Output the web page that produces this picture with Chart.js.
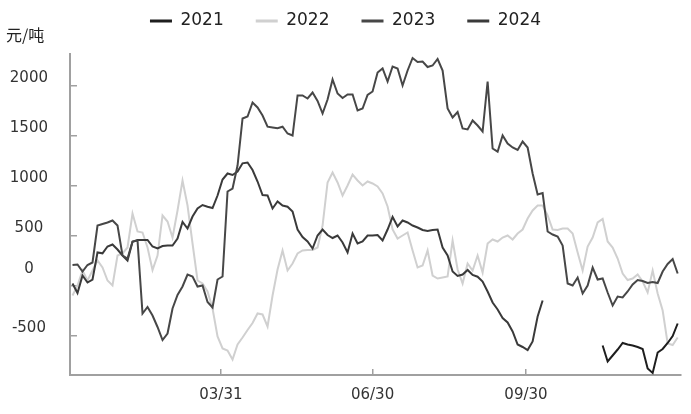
<!DOCTYPE html>
<html><head><meta charset="utf-8">
<script src="https://cdn.jsdelivr.net/npm/chart.js@4"></script>
<style>html,body{margin:0;padding:0;background:#fff}</style>
</head><body>
<canvas id="c" width="691" height="414"></canvas>
<script>
// ---- data ----
const seriesNames = ['2021', '2022', '2023', '2024'];
const tickDays = [89, 180, 272];              // day-of-year positions (0 = 01/01)
const tickLabels = ['03/31', '06/30', '09/30'];
const yTicks = [-500, 0, 500, 1000, 1500, 2000];
const unitLabel = '元/吨';
const STEP = 3;                                // days between samples
const start2021 = 106;                         // first sample index of 2021
const values2021 = [-600, -760, -700, -640, -575, -590, -600, -615, -635, -830, -875, -670, -635, -575, -505, -380];
const values2022 = [
  -100, 0, 150, 50, 150, 250, 180, 50, 0, 300,
  320, 380, 720, 540, 530, 380, 155, 300, 700, 640,
  480, 750, 1050, 800, 420, 50, 20, -60, -230, -510,
  -630, -650, -740, -590, -520, -445, -375, -280, -290, -410,
  -100, 160, 350, 150, 220, 320, 350, 355, 355, 380,
  600, 1030, 1130, 1030, 900, 1000, 1110, 1050, 1000, 1040,
  1020, 990, 920, 790, 560, 470, 500, 530, 350, 180,
  200, 350, 100, 70, 80, 90, 450, 160, 20, 220,
  150, 300, 130, 420, 460, 440, 480, 500, 460, 520,
  560, 670, 750, 800, 800, 700, 560, 555, 570, 570,
  520, 330, 150, 390, 480, 630, 665, 440, 380, 270,
  120, 55, 70, 110, 40, -70, 150, -80, -250, -580,
  -595, -520];
const values2023 = [
  205, 210, 140, 205, 230, 600, 615, 630, 650, 600,
  300, 270, 440, 450, -280, -215, -300, -415, -545, -480,
  -230, -95, -10, 110, 90, -10, 0, -165, -220, 60,
  90, 940, 970, 1200, 1670, 1690, 1830, 1780, 1700, 1588,
  1580, 1572, 1588, 1520, 1500, 1900, 1900, 1870, 1930, 1845,
  1720, 1860, 2060, 1920, 1875, 1910, 1910, 1750, 1770, 1905,
  1940, 2130, 2170, 2040, 2190, 2170, 2000, 2150, 2275, 2235,
  2240, 2185, 2200, 2265, 2150, 1770, 1680, 1735, 1570, 1560,
  1650, 1600, 1540, 2040, 1370, 1338, 1500, 1420, 1380, 1355,
  1440, 1380, 1120, 910, 925, 540, 510, 490, 400, 20,
  0, 80, -80, 0, 180, 60, 70, -70, -200, -110,
  -120, -60, 10, 55, 45, 25, 35, 25, 140, 215,
  265, 120];
const values2024 = [
  20, -75, 100, 30, 60, 330, 322, 390, 410, 360,
  300, 250, 438, 455, 455, 455, 390, 370, 395, 400,
  400, 470, 635, 570, 690, 770, 805, 788, 775, 900,
  1060, 1120, 1105, 1140, 1222, 1230, 1155, 1040, 905, 900,
  770, 840, 800, 788, 740, 560, 485, 440, 370, 500,
  560, 505, 475, 500, 430, 330, 520, 420, 440, 500,
  500, 505, 450, 560, 685, 590, 650, 630, 600, 580,
  555, 545, 555, 560, 380, 300, 140, 95, 110, 155,
  105, 88, 40, -60, -170, -240, -325, -370, -460, -590,
  -615, -645, -560, -310, -150];

function toPoints(start, vals) {
  return vals.map((v, i) => ({ x: (start + i) * STEP, y: v }));
}

const FONT = 'DejaVu Sans';
const axisColor = '#a0a0a0';

const shiftLegend = {
  id: 'shiftLegend',
  afterLayout(chart) {
    if (chart.legend) { chart.legend.top -= 19.5; chart.legend.bottom -= 19.5; }
  }
};
const unitPlugin = {
  id: 'unitPlugin',
  afterDraw(chart) {
    const ctx = chart.ctx;
    ctx.save();
    ctx.font = '16px "Noto Sans CJK SC"';
    ctx.fillStyle = '#222';
    ctx.textAlign = 'left';
    ctx.textBaseline = 'middle';
    ctx.fillText(unitLabel, 6, chart.chartArea.top - 19);
    ctx.restore();
  }
};

new Chart(document.getElementById('c'), {
  type: 'line',
  data: {
    datasets: [
      { label: seriesNames[0], data: toPoints(start2021, values2021), borderColor: '#1e1e1e', backgroundColor: '#1e1e1e', order: 0 },
      { label: seriesNames[1], data: toPoints(0, values2022), borderColor: '#d0d0d0', backgroundColor: '#d0d0d0', order: 5 },
      { label: seriesNames[2], data: toPoints(0, values2023), borderColor: '#474747', backgroundColor: '#474747', order: 1 },
      { label: seriesNames[3], data: toPoints(0, values2024), borderColor: '#3a3a3a', backgroundColor: '#3a3a3a', order: 2 }
    ]
  },
  options: {
    responsive: false,
    animation: false,
    layout: { padding: { left: 10, right: 10, top: 0, bottom: 10 } },
    elements: { point: { radius: 0 }, line: { borderWidth: 2, tension: 0 } },
    plugins: {
      tooltip: { enabled: false },
      legend: {
        position: 'top',
        maxHeight: 54,
        labels: {
          font: { family: FONT, size: 17 },
          color: '#222',
          boxWidth: 22,
          boxHeight: 3,
          padding: 32,
          sort: (a, b) => a.datasetIndex - b.datasetIndex,
          generateLabels: (chart) => Chart.defaults.plugins.legend.labels.generateLabels(chart)
            .map(l => Object.assign(l, { fillStyle: l.strokeStyle, lineWidth: 0 }))
        }
      }
    },
    scales: {
      x: {
        type: 'linear',
        min: -1.5,
        max: 365,
        afterBuildTicks: (s) => { s.ticks = tickDays.map(v => ({ value: v })); },
        afterFit: (s) => { s.height = 29; },
        ticks: {
          callback: (v) => tickLabels[tickDays.indexOf(v)],
          font: { family: FONT, size: 15 },
          color: '#333',
          padding: 17,
          maxRotation: 0,
          autoSkip: false
        },
        grid: { drawOnChartArea: false, tickLength: -6, color: axisColor, lineWidth: 1.5 },
        border: { color: axisColor, width: 2 }
      },
      y: {
        min: -895,
        max: 2315,
        afterBuildTicks: (s) => { s.ticks = yTicks.map(v => ({ value: v })); },
        afterFit: (s) => { s.width = 60; },
        ticks: {
          callback: (v) => v === 0 ? ['0', ''] : String(v),
          font: { family: FONT, size: 15 },
          color: '#333',
          crossAlign: 'center',
          labelOffset: -7.5,
          padding: 29
        },
        grid: { drawOnChartArea: false, tickLength: -7, color: axisColor, lineWidth: 1.5 },
        border: { color: axisColor, width: 2 }
      }
    }
  },
  plugins: [shiftLegend, unitPlugin]
});
</script>
</body></html>
